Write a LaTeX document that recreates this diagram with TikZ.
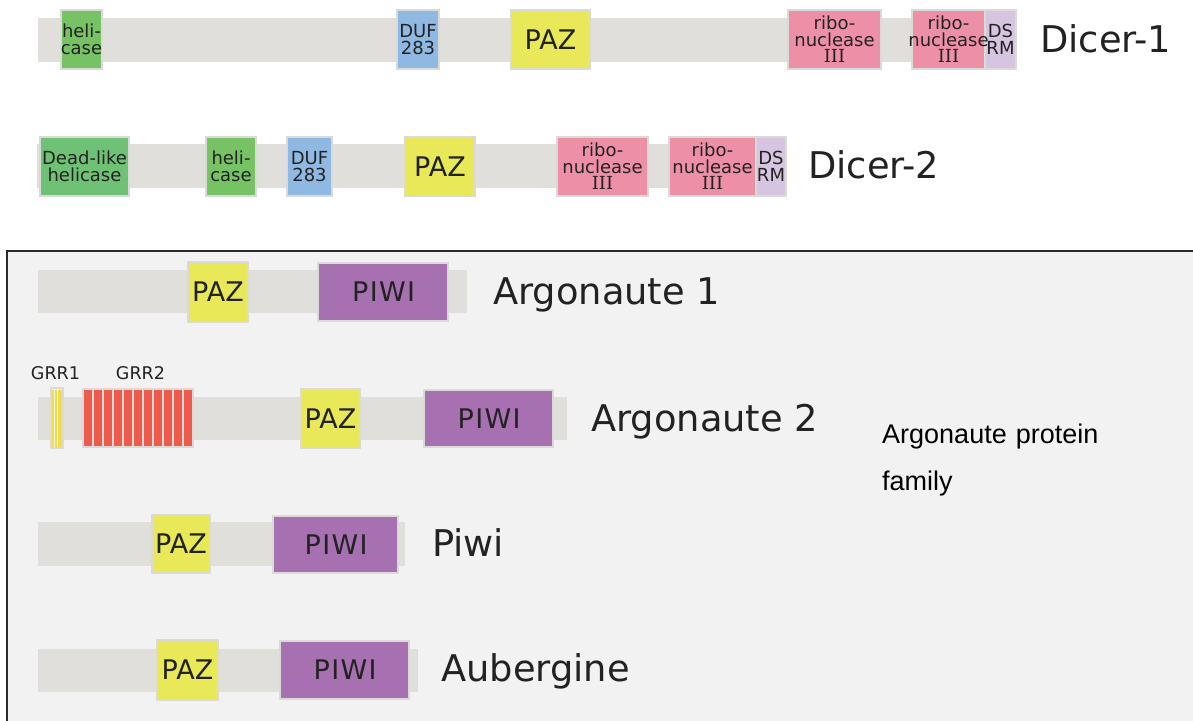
\documentclass[tikz,border=0pt]{standalone}
\usepackage{fontspec}
\setmainfont{DejaVu Sans}
\newfontfamily\arialf{Liberation Sans}
\newfontfamily\romanIII{DejaVu Serif}
\newfontfamily\spacedf[LetterSpace=5]{DejaVu Sans}
\definecolor{bbgray}{HTML}{E0DFDB}
\definecolor{domline}{HTML}{DADAD6}
\definecolor{helgreen}{HTML}{76C265}
\definecolor{deadgreen}{HTML}{6FC275}
\definecolor{dufblue}{HTML}{8FB9E3}
\definecolor{pazyellow}{HTML}{E8E858}
\definecolor{ribpink}{HTML}{EE8FA8}
\definecolor{dsrmlav}{HTML}{D6C5E0}
\definecolor{piwipurple}{HTML}{A770B0}
\definecolor{grrred}{HTML}{EE5A4C}
\definecolor{grryellow}{HTML}{F2DC4C}
\definecolor{panelbg}{HTML}{F2F2F2}
\definecolor{panelline}{HTML}{2A2A2A}
\definecolor{txt}{HTML}{222222}
\newcommand\bbone[5]{%
  \node[bbstyle, minimum width={#4-#2}, minimum height={#5-#3}, anchor=north west] (#1) at (#2,#3) {};}
\newcommand\dombox[7]{%
  \node[domstyle, fill=#6, minimum width={#4-#2}, minimum height={#5-#3}, anchor=north west] (#1) at (#2,#3) {};
  \node[dtext] (#1t) at (#1.center) {#7};}
\newcommand\bigdom[7]{%
  \node[domstyle, fill=#6, minimum width={#4-#2}, minimum height={#5-#3}, anchor=north west] (#1) at (#2,#3) {};
  \node[bigtext] (#1t) at (#1.center) {#7};}
\begin{document}
\begin{tikzpicture}[x=1pt,y=-1pt,
  bbstyle/.style={fill=bbgray, draw=none, inner sep=0pt, outer sep=0pt},
  domstyle/.style={draw=domline, line width=1.2pt, inner sep=0pt, outer sep=0pt},
  dtext/.style={inner sep=0pt, align=center, text=txt, font=\fontsize{18}{16.5}\selectfont},
  bigtext/.style={inner sep=0pt, text=txt, font=\fontsize{27}{30}\selectfont},
  protlabel/.style={inner sep=0pt, anchor=base west, text=txt, font=\fontsize{36.8}{40}\selectfont},
  grrlabel/.style={inner sep=0pt, anchor=base, text=txt, font=\fontsize{17.5}{19}\selectfont}]
\useasboundingbox (0,0) rectangle (1193,720);
\clip (0,0) rectangle (1193,720);
\fill[white] (0,0) rectangle (1193,720);

% ---------- Dicer-1 ----------
\bbone{d1bb}{38}{18}{1017}{62}
\dombox{d1hel}{61}{10}{102}{69}{helgreen}{heli-\\case}
\dombox{d1duf}{397}{10}{439}{69}{dufblue}{DUF\\283}
\bigdom{d1paz}{511}{10}{590}{69}{pazyellow}{PAZ}
\dombox{d1riba}{788}{10}{881}{69}{ribpink}{ribo-\\nuclease\\{\romanIII III}}
\dombox{d1ribb}{912}{10}{985}{69}{ribpink}{}
\dombox{d1ds}{985}{10}{1016}{69}{dsrmlav}{DS\\RM}
\node[dtext] (d1ribbt2) at (d1ribb.center) {ribo-\\nuclease\\{\romanIII III}};
\node[protlabel] (d1lab) at (1040,52) {Dicer-1};

% ---------- Dicer-2 ----------
\bbone{d2bb}{37}{144}{786}{188}
\dombox{d2dead}{40}{137}{129}{196}{deadgreen}{Dead-like\\helicase}
\dombox{d2hel}{206}{137}{256}{196}{helgreen}{heli-\\case}
\dombox{d2duf}{287}{137}{332}{196}{dufblue}{DUF\\283}
\bigdom{d2paz}{405}{137}{475}{196}{pazyellow}{PAZ}
\dombox{d2riba}{557}{137}{648}{196}{ribpink}{ribo-\\nuclease\\{\romanIII III}}
\dombox{d2ribb}{669}{137}{756}{196}{ribpink}{ribo-\\nuclease\\{\romanIII III}}
\dombox{d2ds}{756}{137}{786}{196}{dsrmlav}{DS\\RM}
\node[protlabel] (d2lab) at (808,178) {Dicer-2};

% ---------- Argonaute panel ----------
\node[draw=panelline, fill=panelbg, line width=2pt, inner sep=0pt, minimum width=1200pt, minimum height=480pt, anchor=north west] (panel) at (6,250) {};

% Argonaute 1
\bbone{a1bb}{38}{270}{467}{313}
\bigdom{a1paz}{188}{262}{248}{322}{pazyellow}{PAZ}
\bigdom{a1piwi}{318}{263}{448}{321}{piwipurple}{\spacedf PIWI\kern-1.3pt}
\node[protlabel] (a1lab) at (493,304) {Argonaute 1};

% Argonaute 2
\bbone{a2bb}{38}{397}{567}{440}
\node[domstyle, fill=panelbg, minimum width=12pt, minimum height=60pt, anchor=north west] (grr1) at (51,388) {};
\foreach \i in {0,...,3} \fill[grryellow] ({52.4+2.6*\i},389.5) rectangle ({54.4+2.6*\i},446.5);
\node[domstyle, fill=domline, minimum width=110pt, minimum height=58pt, anchor=north west] (grr2) at (83,389) {};
\foreach \i in {0,...,10} \fill[grrred] ({83.8+10*\i},389.8) rectangle ({92.3+10*\i},446.2);
\node[grrlabel] (grr1lab) at (55.5,379) {GRR1};
\node[grrlabel] (grr2lab) at (140.5,379) {GRR2};
\bigdom{a2paz}{301}{389}{360}{448}{pazyellow}{PAZ}
\bigdom{a2piwi}{424}{390}{553}{447}{piwipurple}{\spacedf PIWI\kern-1.3pt}
\node[protlabel] (a2lab) at (591,431) {Argonaute 2};

% Piwi
\bbone{pbb}{38}{522}{405}{566}
\bigdom{ppaz}{152}{515}{210}{573}{pazyellow}{PAZ}
\bigdom{ppiwi}{273}{516}{398}{573}{piwipurple}{\spacedf PIWI\kern-1.3pt}
\node[protlabel] (plab) at (432,556) {Piwi};

% Aubergine
\bbone{aubbb}{38}{649}{418}{692}
\bigdom{aubpaz}{157}{640}{218}{700}{pazyellow}{PAZ}
\bigdom{aubpiwi}{280}{641}{409}{699}{piwipurple}{\spacedf PIWI\kern-1.3pt}
\node[protlabel] (aublab) at (441,681) {Aubergine};

% family caption
\node[inner sep=0pt, anchor=base west, text width=300pt, align=left, text=black,
      font=\arialf\fontsize{27}{47}\selectfont] (famlab) at (882,443) {Argonaute protein\\family};
\end{tikzpicture}
\end{document}
